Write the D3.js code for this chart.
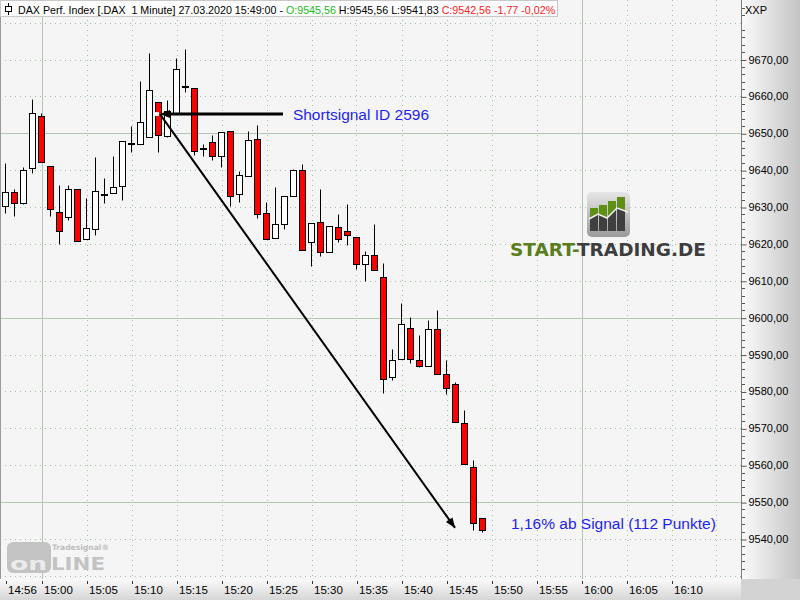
<!DOCTYPE html>
<html><head><meta charset="utf-8">
<script src="https://cdn.jsdelivr.net/npm/d3@7"></script>
<style>body{margin:0;background:#fff}svg{display:block}</style>
</head><body>
<svg id="c" width="800" height="600"></svg>
<script>
// ---------- data ----------
const times = ["14:56","14:57","14:58","14:59","15:00","15:01","15:02","15:03","15:04","15:05",
  "15:06","15:07","15:08","15:09","15:10","15:11","15:12","15:13","15:14","15:15",
  "15:16","15:17","15:18","15:19","15:20","15:21","15:22","15:23","15:24","15:25",
  "15:26","15:27","15:28","15:29","15:30","15:31","15:32","15:33","15:34","15:35",
  "15:36","15:37","15:38","15:39","15:40","15:41","15:42","15:43","15:44","15:45",
  "15:46","15:47","15:48","15:49"];
const open  = [9630.3,9634.0,9631.0,9640.5,9654.7,9641.1,9628.6,9627.4,9634.8,9621.3,
  9624.0,9633.3,9633.8,9635.6,9647.2,9647.1,9649.1,9658.6,9649.2,9655.4,
  9662.6,9662.2,9645.8,9647.6,9643.8,9650.5,9633.5,9638.4,9648.4,9628.4,
  9621.5,9625.4,9633.0,9640.1,9620.5,9625.9,9617.8,9624.6,9623.6,9621.9,
  9614.6,9617.0,9611.0,9583.9,9588.8,9597.2,9588.5,9586.9,9597.0,9584.8,
  9582.0,9571.5,9559.5,9545.56];
const high  = [9642.0,9635.0,9640.8,9659.3,9655.5,9641.1,9636.0,9636.0,9634.8,9632.4,
  9643.6,9637.8,9643.9,9647.8,9652.0,9664.2,9671.7,9658.6,9658.9,9670.3,
  9672.8,9662.2,9647.2,9649.4,9650.3,9650.5,9639.8,9650.7,9652.3,9631.5,
  9635.4,9633.0,9640.3,9641.8,9625.7,9635.0,9624.9,9628.0,9630.7,9621.9,
  9618.2,9625.3,9614.8,9591.4,9604.1,9600.1,9595.2,9599.5,9602.2,9588.6,
  9582.6,9575.1,9561.3,9545.56];
const low   = [9628.3,9627.5,9630.8,9639.1,9642.2,9627.7,9620.1,9626.6,9620.8,9621.3,
  9622.3,9631.0,9633.8,9632.0,9644.8,9647.1,9649.1,9645.0,9648.9,9655.4,
  9661.1,9644.2,9643.8,9642.8,9640.9,9630.2,9631.3,9638.4,9627.1,9621.3,
  9621.5,9624.1,9633.0,9618.3,9614.1,9616.7,9617.8,9620.5,9619.6,9613.2,
  9609.9,9613.0,9579.7,9583.0,9588.8,9587.7,9586.6,9586.9,9584.8,9579.4,
  9571.7,9560.4,9542.5,9541.83];
const close = [9634.0,9631.2,9640.0,9655.5,9642.2,9629.4,9623.5,9635.0,9620.8,9624.3,
  9634.3,9633.3,9635.3,9647.8,9647.2,9653.0,9661.7,9649.4,9656.0,9667.3,
  9662.6,9645.2,9645.8,9643.8,9650.3,9632.9,9638.6,9648.1,9628.1,9621.4,
  9625.4,9633.0,9640.1,9618.3,9625.7,9617.8,9624.9,9621.4,9622.5,9614.6,
  9617.0,9613.0,9583.3,9588.4,9598.4,9588.8,9586.9,9597.0,9584.8,9581.0,
  9571.7,9560.4,9544.3,9542.56];
const xTickLabels = ["14:56","15:00","15:05","15:10","15:15","15:20","15:25","15:30","15:35",
  "15:40","15:45","15:50","15:55","16:00","16:05","16:10"];
const yTickValues = [9540,9550,9560,9570,9580,9590,9600,9610,9620,9630,9640,9650,9660,9670];
const ySolidValues = [9550,9600,9650];
const xSolidLabels = ["15:00","16:00"];
// annotation anchors (time, price)
const signalPoint = ["15:13:10", 9655.2];
const signalLabelEnd = ["15:26:50", 9655.2];
const targetPoint = ["15:45:57", 9543.0];
const signalTextAt = ["15:27:56", 9655.2];
const resultTextAt = ["15:52:10", 9544.2];
const signalText = "Shortsignal ID 2596";
const resultText = "1,16% ab Signal (112 Punkte)";
const headerParts = [
  ["DAX Perf. Index [.DAX  1 Minute] 27.03.2020 15:49:00 - ", "#000"],
  ["O:9545,56", "#1db81d"],
  [" H:9545,56 L:9541,83 ", "#000"],
  ["C:9542,56 -1,77 -0,02%", "#ff1a1a"]
];

// ---------- setup ----------
const W = 800, H = 600, plotR = 741, plotB = 579;
const parse = d3.timeParse("%Y-%m-%d %H:%M");
const parseS = d3.timeParse("%Y-%m-%d %H:%M:%S");
const T = s => s.length > 5 ? parseS("2020-03-27 " + s) : parse("2020-03-27 " + s);
const data = times.map((t, i) => ({t: T(t), o: open[i], h: high[i], l: low[i], c: close[i]}));

const x = d3.scaleTime().domain([T("14:56"), T("16:10")]).range([5.5, 671.5]);
const y = d3.scaleLinear().domain([9540, 9670]).range([539, 59.5]);
const cr = v => Math.round(v) + 0.5;

const svg = d3.select("#c");
const defs = svg.append("defs");
const gR = defs.append("linearGradient").attr("id","gR").attr("x1",0).attr("x2",1).attr("y1",0).attr("y2",0);
gR.append("stop").attr("offset",0).attr("stop-color","#fbfbfb");
gR.append("stop").attr("offset",1).attr("stop-color","#c4c4c4");
const gB = defs.append("linearGradient").attr("id","gB").attr("x1",0).attr("x2",0).attr("y1",0).attr("y2",1);
gB.append("stop").attr("offset",0).attr("stop-color","#fafafa");
gB.append("stop").attr("offset",1).attr("stop-color","#d6d6d6");
const gI = defs.append("linearGradient").attr("id","gI").attr("x1",0).attr("x2",0).attr("y1",0).attr("y2",1);
gI.append("stop").attr("offset",0).attr("stop-color","#e6e6e6");
gI.append("stop").attr("offset",1).attr("stop-color","#9a9a9a");
defs.append("clipPath").attr("id","plotClip").append("rect").attr("x",0).attr("y",0).attr("width",plotR).attr("height",plotB);

// plot background
svg.append("rect").attr("x",0).attr("y",0).attr("width",plotR).attr("height",plotB).attr("fill","#f5f5f5");

const plot = svg.append("g").attr("clip-path","url(#plotClip)");

// ---------- grid ----------
const grid = plot.append("g");
const yDot = d3.range(9530, 9690, 10).filter(v => !ySolidValues.includes(v));
grid.selectAll("line.hd").data(yDot).join("line")
  .attr("x1",0).attr("x2",plotR).attr("y1",d=>cr(y(d))).attr("y2",d=>cr(y(d)))
  .attr("stroke","#9fc39f").attr("stroke-width",1).attr("stroke-dasharray","1,4");
const xDotTimes = d3.timeMinute.every(5).range(T("14:55"), T("16:20")).filter(t => t.getMinutes() !== 0);
grid.selectAll("line.vd").data(xDotTimes).join("line")
  .attr("y1",0).attr("y2",plotB).attr("x1",d=>cr(x(d))).attr("x2",d=>cr(x(d)))
  .attr("stroke","#9fc39f").attr("stroke-width",1).attr("stroke-dasharray","1,4");
grid.selectAll("line.hs").data(ySolidValues).join("line")
  .attr("x1",0).attr("x2",plotR).attr("y1",d=>cr(y(d))).attr("y2",d=>cr(y(d)))
  .attr("stroke","#b3c6b3").attr("stroke-width",1);
grid.selectAll("line.vs").data(xSolidLabels.map(T)).join("line")
  .attr("y1",0).attr("y2",plotB).attr("x1",d=>cr(x(d))).attr("x2",d=>cr(x(d)))
  .attr("stroke","#b3c6b3").attr("stroke-width",1);

// ---------- logos ----------
const lg = plot.append("g");
// START-TRADING icon
lg.append("rect").attr("x",587).attr("y",192).attr("width",43).attr("height",45).attr("rx",5).attr("fill","url(#gI)");
const bars = [[590,208],[599,205],[608,201],[617,197]];
bars.forEach(([bx,by])=>{
  lg.append("rect").attr("x",bx).attr("y",by).attr("width",8).attr("height",231-by).attr("fill","#3f3f3f");
});
lg.append("clipPath").attr("id","greenClip").append("path")
  .attr("d","M588,190 L631,190 L631,212 L617,208 L607,218 L598,214 L588,219 Z");
bars.forEach(([bx,by])=>{
  lg.append("rect").attr("x",bx).attr("y",by).attr("width",8).attr("height",231-by).attr("fill","#5f8f14").attr("clip-path","url(#greenClip)");
});
lg.append("path").attr("d","M589,219 L598,214 L607,218 L617,208 L628,212").attr("fill","none").attr("stroke","#f2f2f2").attr("stroke-width",1.5);
const lt = lg.append("text").attr("x",510).attr("y",256).attr("font-family","DejaVu Sans").attr("font-weight","bold")
  .attr("font-size",18.5).attr("textLength",196).attr("lengthAdjust","spacingAndGlyphs");
lt.append("tspan").attr("fill","#5b7d1c").text("START-");
lt.append("tspan").attr("fill","#3d3d3d").text("TRADING.DE");

// Tradesignal online logo
lg.append("rect").attr("x",7).attr("y",542).attr("width",44).attr("height",31).attr("rx",6).attr("fill","#c3c3c3");
lg.append("text").attr("x",10).attr("y",570).attr("font-family","DejaVu Sans").attr("font-weight","bold")
  .attr("font-size",17).attr("fill","#ebebeb").attr("textLength",37).attr("lengthAdjust","spacingAndGlyphs").text("on");
lg.append("text").attr("x",51).attr("y",570).attr("font-family","DejaVu Sans").attr("font-weight","bold")
  .attr("font-size",17).attr("fill","#c3c3c3").attr("textLength",54).attr("lengthAdjust","spacingAndGlyphs").text("LINE");
lg.append("text").attr("x",52).attr("y",550).attr("font-family","DejaVu Sans").attr("font-weight","bold")
  .attr("font-size",7.5).attr("fill","#bdbdbd").attr("textLength",57).attr("lengthAdjust","spacingAndGlyphs").text("Tradesignal\u00AE");

// ---------- candles ----------
const cg = plot.append("g");
data.forEach(d => {
  const cx = x(d.t);
  const top = Math.max(d.o, d.c), bot = Math.min(d.o, d.c);
  const yt = cr(y(top)), yb = cr(y(bot));
  cg.append("line").attr("x1",cx).attr("x2",cx).attr("y1",cr(y(d.h))).attr("y2",cr(y(d.l)))
    .attr("stroke","#000").attr("stroke-width",1);
  if (yb - yt < 1) {
    cg.append("rect").attr("x",cx-3.5).attr("y",Math.round(y(d.o))-1).attr("width",7).attr("height",2).attr("fill","#000");
  } else {
    cg.append("rect").attr("x",cx-3).attr("y",yt).attr("width",6).attr("height",yb-yt)
      .attr("fill", d.c >= d.o ? "#ffffff" : "#ff0000").attr("stroke","#000").attr("stroke-width",1);
  }
});

// ---------- annotations ----------
const ag = plot.append("g");
const sx = x(T(signalPoint[0])), sy = y(signalPoint[1]);
const ex = x(T(signalLabelEnd[0])), ey = y(signalLabelEnd[1]);
const tx = x(T(targetPoint[0])), ty = y(targetPoint[1]);
function arrowHead(fx, fy, tx_, ty_, len, wid) {
  const a = Math.atan2(ty_-fy, tx_-fx);
  const bx = tx_ - len*Math.cos(a), by = ty_ - len*Math.sin(a);
  const px = -Math.sin(a)*wid/2, py = Math.cos(a)*wid/2;
  return `M${tx_},${ty_} L${bx+px},${by+py} L${bx-px},${by-py} Z`;
}
ag.append("line").attr("x1",ex).attr("y1",ey).attr("x2",sx+4).attr("y2",sy).attr("stroke","#000").attr("stroke-width",3);
ag.append("path").attr("d",arrowHead(ex,ey,sx,sy,10,8)).attr("fill","#000");
ag.append("line").attr("x1",sx).attr("y1",sy).attr("x2",tx).attr("y2",ty).attr("stroke","#000").attr("stroke-width",2);
ag.append("path").attr("d",arrowHead(sx,sy,tx,ty,10,8)).attr("fill","#000");
ag.append("rect").attr("x",sx-5).attr("y",sy-2).attr("width",4).attr("height",4).attr("fill","#fff8f0");
ag.append("text").attr("x",x(T(signalTextAt[0]))).attr("y",y(signalTextAt[1])+5.5).attr("font-family","Liberation Sans, Arial")
  .attr("font-size",15.5).attr("fill","#1f1ff0").text(signalText);
ag.append("text").attr("x",x(T(resultTextAt[0]))).attr("y",y(resultTextAt[1])+5.5).attr("font-family","Liberation Sans, Arial")
  .attr("font-size",15.5).attr("fill","#1f1ff0").text(resultText);

// ---------- header ----------
svg.append("rect").attr("x",0.5).attr("y",0.5).attr("width",557).attr("height",16).attr("fill","#fdfdfd").attr("stroke","#c8c8c8");
svg.append("line").attr("x1",8.5).attr("x2",8.5).attr("y1",3).attr("y2",15).attr("stroke","#000");
svg.append("rect").attr("x",5.5).attr("y",6.5).attr("width",6).attr("height",5).attr("fill","#fff").attr("stroke","#000");
const ht = svg.append("text").attr("x",18).attr("y",13.5).attr("font-family","Liberation Sans, Arial")
  .attr("font-size",10.7).attr("xml:space","preserve");
headerParts.forEach(([s,c]) => ht.append("tspan").attr("fill",c).text(s));

// ---------- axes areas ----------
svg.append("rect").attr("x",plotR).attr("y",0).attr("width",W-plotR).attr("height",plotB).attr("fill","url(#gR)");
svg.append("rect").attr("x",0).attr("y",plotB).attr("width",plotR).attr("height",H-plotB).attr("fill","url(#gB)");
svg.append("rect").attr("x",plotR).attr("y",plotB).attr("width",W-plotR).attr("height",H-plotB).attr("fill","#d3d3d3");
svg.append("line").attr("x1",plotR+0.5).attr("x2",plotR+0.5).attr("y1",0).attr("y2",plotB).attr("stroke","#7a7a7a");
svg.append("line").attr("x1",0.5).attr("x2",0.5).attr("y1",17).attr("y2",plotB).attr("stroke","#9a9a9a");

// right axis
const yAxis = d3.axisRight(y).tickValues(yTickValues).tickSize(5).tickPadding(2)
  .tickFormat(d => d3.format(".2f")(d).replace(".", ","));
const ya = svg.append("g").attr("transform",`translate(${plotR+0.5},0)`).call(yAxis);
ya.select(".domain").remove();
ya.selectAll(".tick line").attr("stroke","#555").attr("transform","translate(0,0.5)");
ya.selectAll(".tick text").attr("font-family","Liberation Sans, Arial").attr("font-size",11).attr("fill","#000");
const minor = d3.range(9530, 9686, 2).filter(v => v % 10 !== 0);
svg.append("g").selectAll("line").data(minor).join("line")
  .attr("x1",plotR+1).attr("x2",plotR+4).attr("y1",d=>cr(y(d))).attr("y2",d=>cr(y(d))).attr("stroke","#555");
svg.append("text").attr("x",745).attr("y",14).attr("font-family","Liberation Sans, Arial").attr("font-size",11).attr("fill","#000").text("XXP");

// bottom axis
const xAxis = d3.axisBottom(x).tickValues(xTickLabels.map(T)).tickSize(3).tickFormat(d3.timeFormat("%H:%M"));
const xa = svg.append("g").attr("transform",`translate(0,${plotB+2})`).call(xAxis);
xa.select(".domain").remove();
xa.selectAll(".tick line").attr("stroke","#333").attr("transform","translate(0.5,0)");
xa.selectAll(".tick text").attr("font-family","Liberation Sans, Arial").attr("font-size",11.5).attr("fill","#000")
  .attr("text-anchor","start").attr("x",2).attr("y",5).attr("dy","0.71em");
</script>
</body></html>
